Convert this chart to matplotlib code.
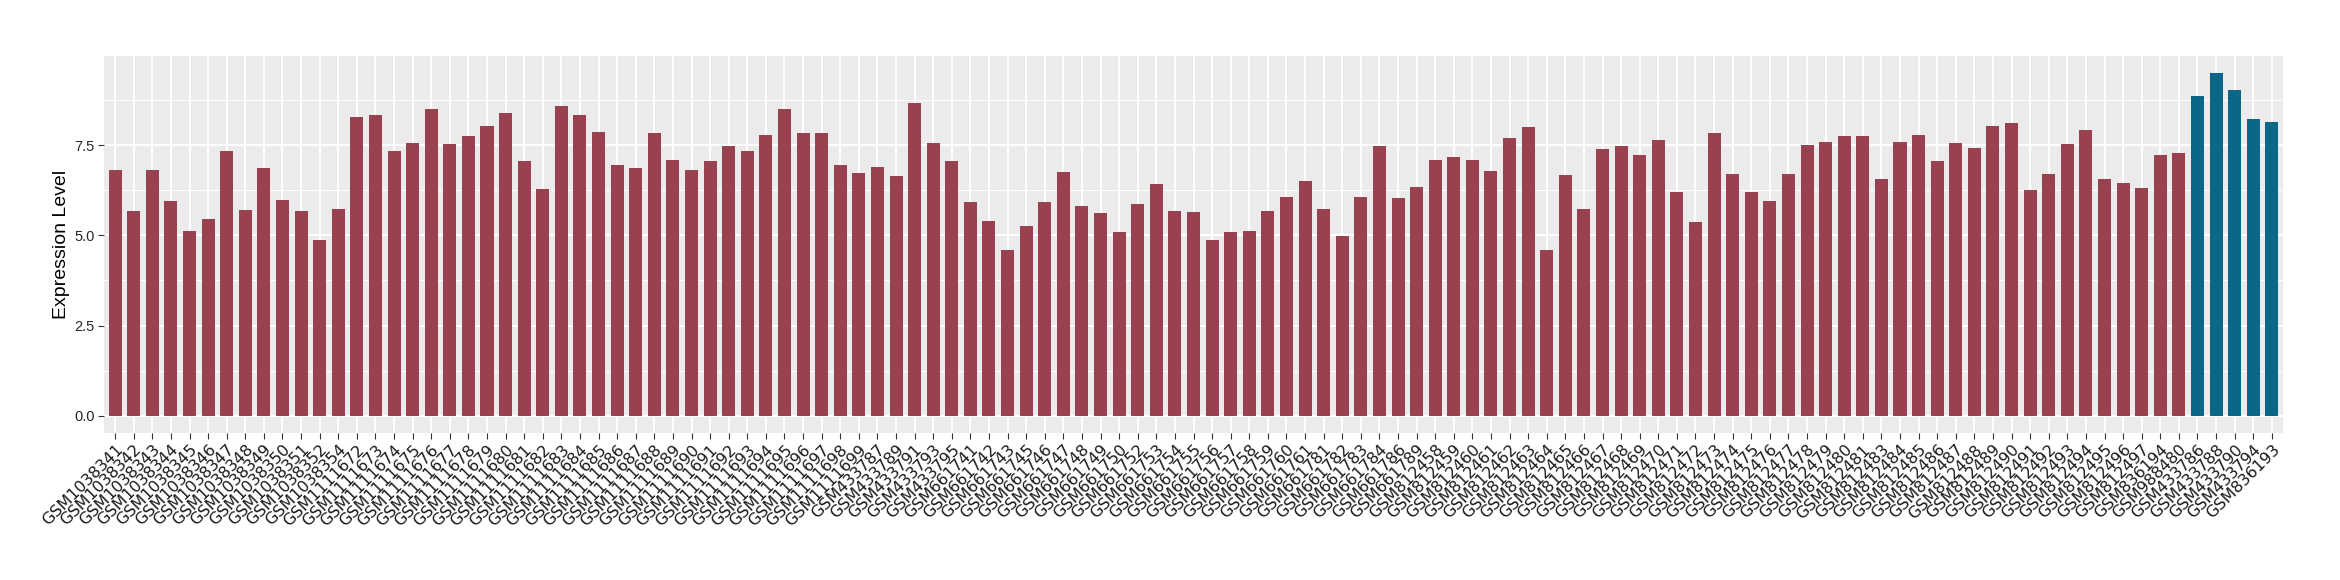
import matplotlib.pyplot as plt
import numpy as np

# Sample ids in plotting order
samples = [
    "GSM1038341", "GSM1038342", "GSM1038343", "GSM1038344", "GSM1038345", "GSM1038346",
    "GSM1038347", "GSM1038348", "GSM1038349", "GSM1038350", "GSM1038351", "GSM1038352",
    "GSM1038354", "GSM1111672", "GSM1111673", "GSM1111674", "GSM1111675", "GSM1111676",
    "GSM1111677", "GSM1111678", "GSM1111679", "GSM1111680", "GSM1111681", "GSM1111682",
    "GSM1111683", "GSM1111684", "GSM1111685", "GSM1111686", "GSM1111687", "GSM1111688",
    "GSM1111689", "GSM1111690", "GSM1111691", "GSM1111692", "GSM1111693", "GSM1111694",
    "GSM1111695", "GSM1111696", "GSM1111697", "GSM1111698", "GSM1111699", "GSM433787",
    "GSM433789", "GSM433791", "GSM433793", "GSM433795", "GSM661741", "GSM661742",
    "GSM661743", "GSM661745", "GSM661746", "GSM661747", "GSM661748", "GSM661749",
    "GSM661750", "GSM661752", "GSM661753", "GSM661754", "GSM661755", "GSM661756",
    "GSM661757", "GSM661758", "GSM661759", "GSM661760", "GSM661761", "GSM661781",
    "GSM661782", "GSM661783", "GSM661784", "GSM661786", "GSM661789", "GSM812458",
    "GSM812459", "GSM812460", "GSM812461", "GSM812462", "GSM812463", "GSM812464",
    "GSM812465", "GSM812466", "GSM812467", "GSM812468", "GSM812469", "GSM812470",
    "GSM812471", "GSM812472", "GSM812473", "GSM812474", "GSM812475", "GSM812476",
    "GSM812477", "GSM812478", "GSM812479", "GSM812480", "GSM812481", "GSM812483",
    "GSM812484", "GSM812485", "GSM812486", "GSM812487", "GSM812488", "GSM812489",
    "GSM812490", "GSM812491", "GSM812492", "GSM812493", "GSM812494", "GSM812495",
    "GSM812496", "GSM812497", "GSM836194", "GSM988480", "GSM433786", "GSM433788",
    "GSM433790", "GSM433794", "GSM836193",
]

# Expression level
expression = [
    6.80, 5.68, 6.80, 5.94, 5.13, 5.44, 7.33, 5.71, 6.85, 5.99, 5.67, 4.88,
    5.74, 8.27, 8.32, 7.33, 7.55, 8.49, 7.52, 7.74, 8.04, 8.38, 7.05, 6.27,
    8.57, 8.32, 7.85, 6.94, 6.85, 7.82, 7.08, 6.80, 7.05, 7.46, 7.33, 7.77,
    8.49, 7.82, 7.82, 6.94, 6.72, 6.88, 6.63, 8.66, 7.55, 7.05, 5.91, 5.39,
    4.60, 5.27, 5.91, 6.75, 5.80, 5.61, 5.08, 5.86, 6.41, 5.68, 5.64, 4.88,
    5.08, 5.13, 5.67, 6.05, 6.50, 5.74, 4.97, 6.05, 7.46, 6.02, 6.35, 7.08,
    7.16, 7.08, 6.77, 7.69, 7.99, 4.58, 6.66, 5.74, 7.39, 7.46, 7.21, 7.63,
    6.19, 5.36, 7.82, 6.69, 6.19, 5.94, 6.69, 7.49, 7.58, 7.74, 7.74, 6.57,
    7.58, 7.77, 7.05, 7.55, 7.43, 8.02, 8.10, 6.25, 6.69, 7.52, 7.91, 6.57,
    6.44, 6.32, 7.21, 7.27, 8.85, 9.49, 9.02, 8.22, 8.13,
]

# the last five samples are the second group
group = ["a"] * (len(samples) - 5) + ["b"] * 5

y_ticks = [0.0, 2.5, 5.0, 7.5]
y_tick_labels = ["0.0", "2.5", "5.0", "7.5"]

colors = {"a": "#9A4150", "b": "#0C6687"}

W, H = 2340, 580
fig = plt.figure(figsize=(W / 100, H / 100), dpi=100)
# panel box in pixels: left 104, right 2283, top 56, bottom 433
ax = fig.add_axes([104 / W, 1 - 433 / H, (2283 - 104) / W, (433 - 56) / H])

x = np.arange(len(samples))
bar_colors = [colors[g] for g in group]
ax.bar(x, expression, width=0.7, color=bar_colors, zorder=3)

# ggplot-like look
ax.set_facecolor("#EBEBEB")
for side in ax.spines.values():
    side.set_visible(False)
ymax = max(expression)
ax.set_ylim(-0.05 * ymax, 1.05 * ymax)
ax.set_xlim(-0.6, len(samples) - 0.4)

ax.set_yticks(y_ticks)
ax.set_yticklabels(y_tick_labels, fontsize=10.5, color="#262626", family="Liberation Sans")
ax.set_yticks([1.25, 3.75, 6.25, 8.75], minor=True)
ax.grid(which="major", color="white", linewidth=1.4, zorder=0)
ax.grid(which="minor", axis="y", color="white", linewidth=0.7, zorder=0)
ax.set_axisbelow(True)

ax.set_xticks(x)
ax.set_xticklabels(samples, rotation=45, ha="right", rotation_mode="anchor",
                   fontsize=11.5, color="#1A1A1A", family="DejaVu Sans")
ax.tick_params(axis="both", which="major", length=4, width=0.8, color="#333333", pad=2.5)
ax.tick_params(axis="y", which="minor", length=0)

ax.set_ylabel("Expression Level", fontsize=14, family="Liberation Sans", labelpad=3)

fig.savefig("out.png", dpi=100)
